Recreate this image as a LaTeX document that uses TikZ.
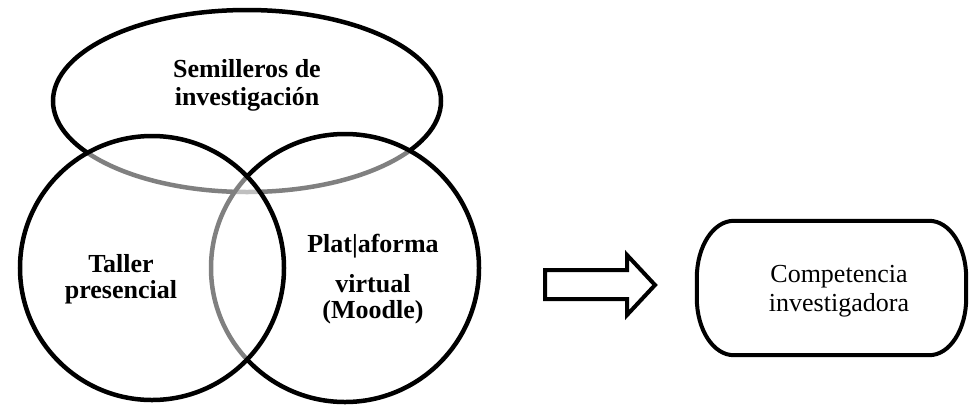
\documentclass[tikz,border=0pt]{standalone}
\usepackage{fontspec}
\setmainfont{Liberation Serif}
\usetikzlibrary{shapes.geometric}
\begin{document}
\begin{tikzpicture}[x=1bp, y=-1bp]
      \def\ringwidth{4.5bp}
      \def\boxwidth{4bp}
      \def\rx{37bp}
      \def\ry{57bp}
      \tikzset{
        ring/.style={draw, line width=\ringwidth, fill=white, fill opacity=0.5, draw opacity=1, inner sep=0pt},
        tag/.style={align=center, inner sep=0pt, font=\bfseries\fontsize{26bp}{26bp}\selectfont},
        corner/.style={x radius=\rx, y radius=\ry},
      }
      \useasboundingbox (0,0) rectangle (970,404);

      %rings
      \node[ring, ellipse, minimum width=388bp, minimum height=182bp, name=semilleros] at (247,101) {};
      \node[ring, circle , minimum width=268bp, name=plataforma] at (345,268) {};
      \node[ring, circle , minimum width=264bp, name=taller    ] at (152,268) {};

      %labels
      \node[tag, font=\bfseries\fontsize{26bp}{28bp}\selectfont, name=semillerosText] at (247,85) {Semilleros de\\investigación};
      \node[tag, name=tallerText    ] at (121,279) {Taller\\presencial};
      \node[tag, name=plataformaText] at (373,279) {Plat|aforma\\[14bp]virtual\\(Moodle)};

      %arrow
      \draw[line width=\boxwidth, line join=miter] (545,270) -- (627,270) -- (627,255) -- (655,285) -- (627,315) -- (627,299) -- (545,299) -- cycle;

      %result
      \node[minimum width=269bp, minimum height=134bp, inner sep=0pt, name=competencia] at (831.5,288) {};
      \draw[line width=\boxwidth]
        ([xshift=\rx]competencia.north west) -- ([xshift=-\rx]competencia.north east) arc[start angle=90, end angle=0, corner]
        -- ([yshift=\ry]competencia.south east) arc[start angle=0, end angle=-90, corner]
        -- ([xshift=\rx]competencia.south west) arc[start angle=270, end angle=180, corner]
        -- ([yshift=-\ry]competencia.north west) arc[start angle=180, end angle=90, corner]
        -- cycle;
      \node[align=center, inner sep=0pt, font=\fontsize{26bp}{29bp}\selectfont, name=competenciaText] at (839,291) {Competencia\\investigadora};
\end{tikzpicture}
\end{document}
